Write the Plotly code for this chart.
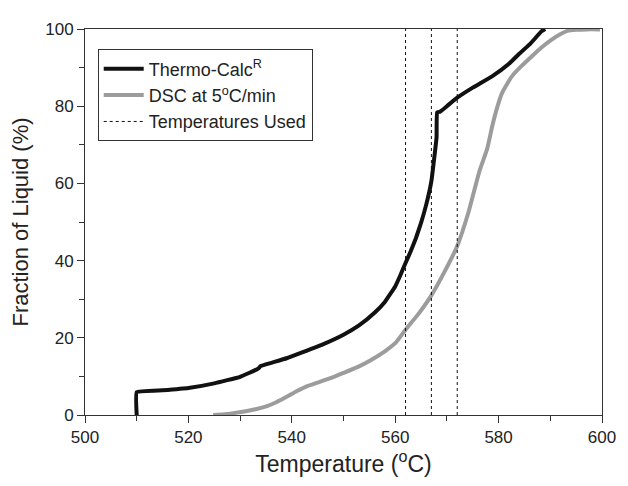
import plotly.graph_objects as go

# Thermo-Calc calculated curve
tc_temp = [510.0, 510.0, 515.0, 520.0, 525.0, 530.0, 533.5, 534.0, 536.0, 539.0, 542.0, 546.0,
           550.0, 553.0, 556.0, 558.0, 560.0, 561.0, 562.0, 563.0, 564.0, 565.0, 566.0, 567.0,
           567.5, 568.0, 568.1, 568.7, 570.0, 572.0, 575.0, 578.8, 582.0, 584.0, 586.0,
           588.3, 589.0]
tc_frac = [0.0, 5.9, 6.4, 7.0, 8.2, 9.9, 12.0, 12.7, 13.5, 14.7, 16.2, 18.3,
           20.8, 23.2, 26.5, 29.3, 33.3, 36.2, 39.4, 42.4, 45.8, 49.8, 54.5, 60.6,
           66.0, 72.0, 78.4, 78.6, 80.0, 82.2, 84.8, 87.8, 91.0, 93.6, 96.0,
           99.4, 100.0]

# DSC measured curve
dsc_temp = [524.8, 527.0, 530.2, 533.0, 535.2, 537.0, 539.0, 541.0, 543.0, 545.0, 548.0, 550.0,
            553.0, 555.0, 558.0, 560.0, 562.0, 564.5, 567.0, 569.5, 572.0, 574.1, 576.3,
            577.8, 578.8, 579.8, 580.7, 582.6, 584.5, 586.4, 588.3, 590.2, 592.0, 593.3, 595.0,
            597.0, 599.6]
dsc_frac = [0.0, 0.2, 0.8, 1.5, 2.3, 3.3, 4.7, 6.2, 7.5, 8.4, 9.8, 10.9,
            12.6, 14.0, 16.5, 18.6, 22.1, 26.2, 31.0, 37.0, 43.8, 52.2, 63.2,
            69.0, 75.0, 80.0, 83.5, 87.8, 90.5, 92.9, 95.2, 97.2, 98.7, 99.5, 99.8,
            99.9, 99.9]

# Temperatures used (dashed lines)
used_temps = [562, 567, 572]

x_ticks = [500, 520, 540, 560, 580, 600]
y_ticks = [0, 20, 40, 60, 80, 100]

fig = go.Figure()

fig.add_trace(go.Scatter(
    x=tc_temp, y=tc_frac, mode="lines", name="Thermo-Calc<sup>R</sup>",
    line=dict(color="#111111", width=4, shape="spline", smoothing=0.3)))
fig.add_trace(go.Scatter(
    x=dsc_temp, y=dsc_frac, mode="lines", name="DSC at 5<sup>o</sup>C/min",
    line=dict(color="#9c9c9c", width=4, shape="spline", smoothing=0.5)))

dx, dy = [], []
for t in used_temps:
    dx += [t, t, None]
    dy += [0, 100, None]
fig.add_trace(go.Scatter(
    x=dx, y=dy, mode="lines", name="Temperatures Used",
    line=dict(color="#111111", width=1, dash="3px,3px")))

font_family = "Liberation Sans, Arial, sans-serif"

fig.update_layout(
    width=620, height=478,
    margin=dict(l=76, r=16, t=14, b=71),
    paper_bgcolor="white", plot_bgcolor="white",
    font=dict(family=font_family, color="#222222"),
    showlegend=True,
    legend=dict(
        x=0.0246, y=0.947, xanchor="left", yanchor="top",
        bordercolor="#333333", borderwidth=1, bgcolor="white",
        font=dict(size=18, family=font_family, color="#222222"),
        tracegroupgap=0, itemwidth=40,
        entrywidth=235, entrywidthmode="pixels",
    ),
    xaxis=dict(
        range=[500, 600], tickvals=x_ticks, ticktext=[str(v) for v in x_ticks],
        ticks="outside", ticklen=7, tickwidth=1, tickcolor="#333333",
        minor=dict(dtick=10, tick0=500, ticks="outside", ticklen=5, tickcolor="#333333"),
        showline=True, linecolor="#333333", linewidth=1, mirror=True,
        showgrid=False, zeroline=False,
        tickfont=dict(size=17),
        title=dict(text="Temperature (<sup>o</sup>C)", font=dict(size=23), standoff=0),
    ),
    yaxis=dict(
        range=[0, 100], tickvals=y_ticks, ticktext=[str(v) for v in y_ticks],
        ticks="outside", ticklen=7, tickwidth=1, tickcolor="#333333",
        minor=dict(dtick=10, tick0=0, ticks="outside", ticklen=5, tickcolor="#333333"),
        showline=True, linecolor="#333333", linewidth=1, mirror=True,
        showgrid=False, zeroline=False,
        tickfont=dict(size=17),
        title=dict(text="Fraction of Liquid (%)", font=dict(size=22), standoff=10),
    ),
)

fig.write_html("out.html")
